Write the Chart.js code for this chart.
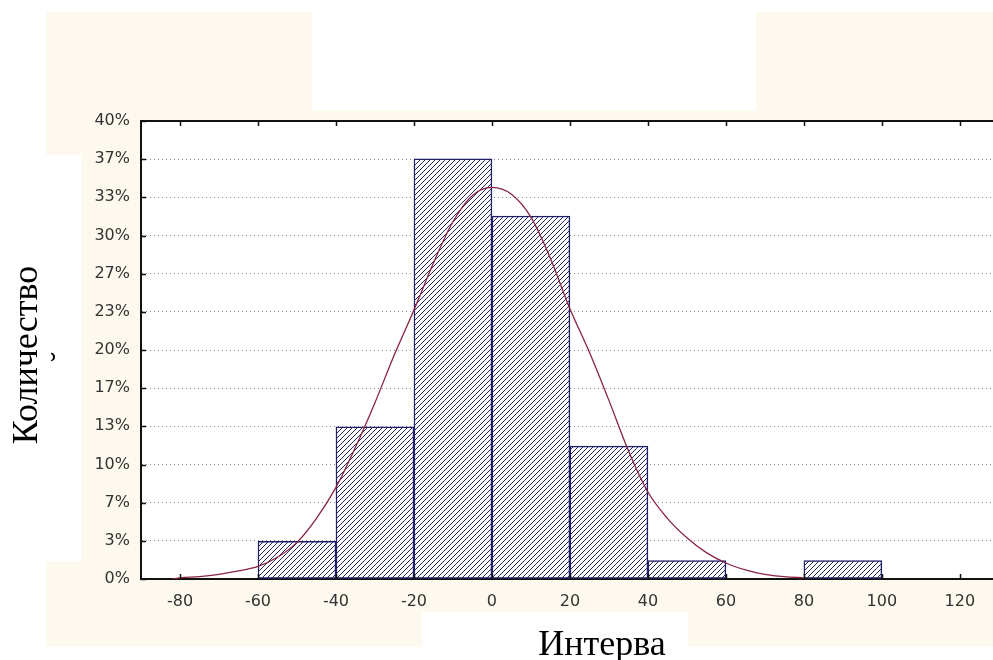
<!DOCTYPE html>
<html>
<head>
<meta charset="utf-8">
<script src="https://cdn.jsdelivr.net/npm/chart.js@4/dist/chart.umd.min.js"></script>
<style>
  html, body { margin: 0; padding: 0; background: #fff; overflow: hidden; }
  canvas { display: block; }
</style>
</head>
<body>
<canvas id="myChart" width="993" height="660"></canvas>
<script>
// histogram bins (centre of each 20-wide interval) and share in %
const binCenters = [-50, -30, -10, 10, 30, 50, 90];
const binShare = [3.3, 13.3, 36.7, 31.7, 11.6, 1.6, 1.6];

// fitted normal curve
const curveX = [-82, -80, -75, -70, -65, -60, -55, -50, -45, -40, -35, -30, -25, -20, -15, -10, -5, 0,
	5, 10, 15, 20, 25, 30, 35, 40, 45, 50, 55, 60, 65, 70, 75, 80];
const curveY = [0.0, 0.1, 0.2, 0.4, 0.7, 1.1, 1.9, 3.2, 5.3, 8.0, 11.5, 15.4, 19.6, 23.5, 27.6, 31.2, 33.5, 34.2,
	33.6, 31.6, 28.0, 23.6, 19.8, 15.6, 11.2, 7.6, 5.3, 3.6, 2.3, 1.4, 0.8, 0.4, 0.2, 0.1];

const xTicks = [-80, -60, -40, -20, 0, 20, 40, 60, 80, 100, 120];
const yTickLabels = ['0%', '3%', '7%', '10%', '13%', '17%', '20%', '23%', '27%', '30%', '33%', '37%', '40%'];

const cream = '#fdf9ef';
const tickFont = { family: 'DejaVu Sans', size: 16 };

// diagonal hatch for the bars
function hatch() {
	const c = document.createElement('canvas');
	c.width = 5; c.height = 5;
	const g = c.getContext('2d');
	g.fillStyle = '#fff';
	g.fillRect(0, 0, 5, 5);
	g.strokeStyle = '#24245e';
	g.lineWidth = 1;
	g.beginPath();
	g.moveTo(-1, 6); g.lineTo(6, -1);
	g.moveTo(-1, 1); g.lineTo(1, -1);
	g.moveTo(4, 6); g.lineTo(6, 4);
	g.stroke();
	return g.createPattern(c, 'repeat');
}

// cream background with the white boxes pasted over it
const backdrop = {
	id: 'backdrop',
	beforeDraw(chart) {
		const ctx = chart.ctx;
		const a = chart.chartArea;
		ctx.save();
		ctx.fillStyle = '#fff';
		ctx.fillRect(0, 0, chart.width, chart.height);
		ctx.fillStyle = cream;
		ctx.fillRect(46, 12, 947, 635);
		ctx.fillStyle = '#fff';
		ctx.fillRect(312, 0, 444, 110);
		ctx.fillRect(0, 155, 81, 406);
		ctx.fillRect(422, 612, 266, 48);
		ctx.fillRect(a.left, a.top, a.right - a.left, a.bottom - a.top);
		ctx.restore();
	},
	afterDraw(chart) {
		const ctx = chart.ctx;
		const a = chart.chartArea;
		const xs = chart.scales.x, ys = chart.scales.y;
		ctx.save();
		ctx.strokeStyle = '#111';
		ctx.lineWidth = 2;
		ctx.beginPath();
		ctx.moveTo(a.left - 1, a.top);
		ctx.lineTo(a.right, a.top);
		ctx.stroke();
		ctx.lineWidth = 1.5;
		ctx.beginPath();
		xs.ticks.forEach(t => {
			const px = Math.round(xs.getPixelForValue(t.value)) + 0.5;
			ctx.moveTo(px, a.top);
			ctx.lineTo(px, a.top + 5);
			ctx.moveTo(px, a.bottom);
			ctx.lineTo(px, a.bottom - 5);
		});
		ys.ticks.forEach(t => {
			const py = Math.round(ys.getPixelForValue(t.value)) + 0.5;
			ctx.moveTo(a.left, py);
			ctx.lineTo(a.left + 5, py);
		});
		ctx.stroke();

		// axis titles
		ctx.fillStyle = '#000';
		ctx.font = '36px "Liberation Serif"';
		ctx.textAlign = 'center';
		ctx.textBaseline = 'alphabetic';
		ctx.fillText('Интерва', 602, 655);
		ctx.translate(37, 355);
		ctx.rotate(-Math.PI / 2);
		ctx.fillText('Количество', 0, 0);
		ctx.font = '30px "Liberation Serif"';
		ctx.fillText('˘', -2, 34);
		ctx.restore();
	}
};

new Chart(document.getElementById('myChart'), {
	type: 'bar',
	data: {
		datasets: [{
			type: 'line',
			data: curveX.map((x, i) => ({ x: x, y: curveY[i] })),
			borderColor: '#8a2440',
			borderWidth: 1.3,
			pointRadius: 0,
			tension: 0.4,
			cubicInterpolationMode: 'monotone',
			order: 0
		}, {
			type: 'bar',
			data: binCenters.map((x, i) => ({ x: x, y: binShare[i] })),
			backgroundColor: hatch(),
			borderColor: '#20206a',
			borderWidth: 1.5,
			borderSkipped: false,
			barPercentage: 1,
			categoryPercentage: 1,
			order: 1
		}]
	},
	options: {
		responsive: false,
		animation: false,
		layout: { padding: { top: 121, left: 0, right: 0, bottom: 0 } },
		plugins: { legend: { display: false }, tooltip: { enabled: false } },
		scales: {
			x: {
				type: 'linear',
				offset: false,
				min: -90,
				max: 128.5,
				afterBuildTicks: s => { s.ticks = xTicks.map(v => ({ value: v })); },
				afterFit: s => { s.height = 81; },
				grid: { display: false, drawTicks: false, offset: false },
				border: { display: true, color: '#111', width: 2 },
				ticks: { font: tickFont, color: '#333', padding: 13, maxRotation: 0 }
			},
			y: {
				min: 0,
				max: 40,
				afterFit: s => { s.width = 141; },
				grid: { color: '#8a8a8a', lineWidth: 1, drawTicks: false },
				border: { display: true, color: '#111', width: 2, dash: [1, 3] },
				ticks: {
					stepSize: 40 / 12,
					font: tickFont,
					color: '#333',
					padding: 11,
					callback: (v, i) => yTickLabels[i]
				}
			}
		}
	},
	plugins: [backdrop]
});
</script>
</body>
</html>
